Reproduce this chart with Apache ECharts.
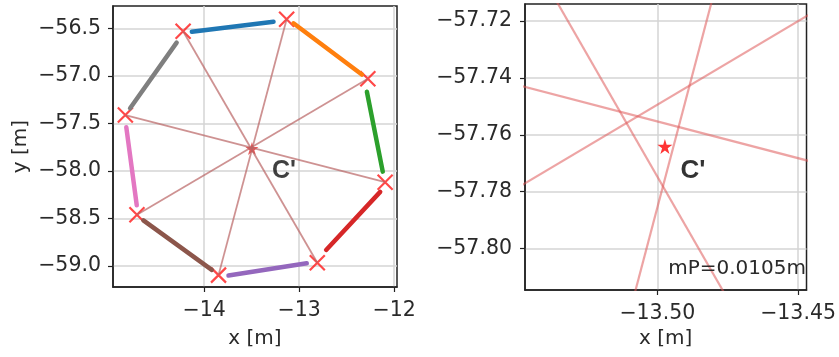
<!DOCTYPE html>
<html>
<head>
<meta charset="utf-8">
<script src="https://cdn.jsdelivr.net/npm/echarts@6/dist/echarts.min.js"></script>
<style>
  html, body { margin: 0; padding: 0; background: #fff; }
  #chart { width: 839px; height: 357px; }
</style>
</head>
<body>
<div id="chart"></div>
<script>
// anchor points (red X), metres
var markerX = [-14.222, -13.132, -12.277, -12.095, -12.809, -13.849, -14.708, -14.830];
var markerY = [-56.531, -56.405, -57.030, -58.118, -58.965, -59.095, -58.460, -57.412];
// estimated centre C'
var centerX = [-13.4973];
var centerY = [-57.7641];
// lines joining opposite anchors
var lineFrom = [0, 1, 2, 7];
var lineTo = [4, 5, 6, 3];
// measured wall segments
var segX0 = [-14.13, -13.06, -12.287, -12.147, -12.92, -13.92, -14.71, -14.78];
var segY0 = [-56.536, -56.447, -57.167, -58.22, -58.97, -59.04, -58.36, -57.34];
var segX1 = [-13.27, -12.34, -12.12, -12.716, -13.744, -14.64, -14.82, -14.29];
var segY1 = [-56.43, -56.986, -58.007, -58.83, -59.10, -58.52, -57.54, -56.65];
// axes
var leftXTicks = [-14, -13, -12];
var leftYTicks = [-56.5, -57.0, -57.5, -58.0, -58.5, -59.0];
var rightXTicks = [-13.50, -13.45];
var rightYTicks = [-57.72, -57.74, -57.76, -57.78, -57.80];
var leftXRange = [-14.96, -11.97];
var leftYRange = [-59.22, -56.265];
var rightXRange = [-13.547, -13.447];
var rightYRange = [-57.8146, -57.714];
var precisionNote = "mP=0.0105m";

var segColors = ["#1f77b4", "#ff7f0e", "#2ca02c", "#d62728", "#9467bd", "#8c564b", "#e377c2", "#7f7f7f"];
var FONT = "DejaVu Sans";
var X_PATH = "path://M0,0L10,10M10,0L0,10";
var STAR_PATH = "path://M50,0L61,35L98,35L68,57L79,91L50,70L21,91L32,57L2,35L39,35Z";

function fmt(v, d) {
  return v.toFixed(d).replace("-", "\u2212");
}

function makeAxis(gridIndex, range, ticks, digits, name, nameGap, margin) {
  return {
    type: "value",
    gridIndex: gridIndex,
    min: range[0],
    max: range[1],
    name: name,
    nameLocation: "middle",
    nameGap: nameGap,
    nameTextStyle: { fontFamily: FONT, fontSize: 20, color: "#2a2a2a" },
    axisLine: { show: true, onZero: false, lineStyle: { color: "#222", width: 1.5 } },
    axisTick: { show: true, customValues: ticks, length: 5, lineStyle: { color: "#222", width: 1.2 } },
    axisLabel: {
      customValues: ticks,
      margin: margin,
      fontFamily: FONT,
      fontSize: 20.5,
      color: "#2a2a2a",
      formatter: function (v) { return fmt(v, digits); }
    },
    splitLine: { show: true, lineStyle: { color: "#d4d4d4", width: 1.5 } }
  };
}

var series = [];

// colored wall segments (left panel)
for (var i = 0; i < segX0.length; i++) {
  series.push({
    type: "line",
    xAxisIndex: 0,
    yAxisIndex: 0,
    data: [[segX0[i], segY0[i]], [segX1[i], segY1[i]]],
    symbol: "none",
    lineStyle: { color: segColors[i], width: 4.5, cap: "round" },
    silent: true
  });
}

// star under the lines (left panel)
series.push({
  type: "scatter",
  xAxisIndex: 0,
  yAxisIndex: 0,
  data: [[centerX[0], centerY[0]]],
  symbol: STAR_PATH,
  symbolSize: 13,
  itemStyle: { color: "#e02020", opacity: 0.75 },
  label: {
    show: true,
    formatter: "C'",
    position: "inside",
    offset: [32, 23],
    fontFamily: "Liberation Sans",
    fontWeight: "bold",
    fontSize: 25,
    color: "#000"
  }
});

// lines between opposite anchors
var panels = [
  { axis: 0, color: "rgba(185,100,100,0.7)", width: 1.8 },
  { axis: 1, color: "rgba(222,90,90,0.55)", width: 2.2 }
];
panels.forEach(function (p) {
  for (var k = 0; k < lineFrom.length; k++) {
    var a = lineFrom[k], b = lineTo[k];
    series.push({
      type: "line",
      xAxisIndex: p.axis,
      yAxisIndex: p.axis,
      data: [[markerX[a], markerY[a]], [markerX[b], markerY[b]]],
      symbol: "none",
      clip: true,
      lineStyle: { color: p.color, width: p.width },
      silent: true
    });
  }
});

// red X anchors (left panel)
series.push({
  type: "scatter",
  xAxisIndex: 0,
  yAxisIndex: 0,
  data: markerX.map(function (x, i) { return [x, markerY[i]]; }),
  symbol: X_PATH,
  symbolSize: 15,
  itemStyle: { color: "transparent", borderColor: "#ff1a1a", borderWidth: 2.2 }
});

// star in the zoomed panel
series.push({
  type: "scatter",
  xAxisIndex: 1,
  yAxisIndex: 1,
  data: [[centerX[0], centerY[0]]],
  symbol: STAR_PATH,
  symbolSize: 15,
  itemStyle: { color: "#ff0000" },
  label: {
    show: true,
    formatter: "C'",
    position: "inside",
    offset: [28, 24],
    fontFamily: "Liberation Sans",
    fontWeight: "bold",
    fontSize: 26,
    color: "#000"
  }
});

var chart = echarts.init(document.getElementById("chart"), null, { renderer: "canvas" });
chart.setOption({
  animation: false,
  backgroundColor: "#fff",
  grid: [
    { left: 113, top: 6, width: 284, height: 281, show: true, borderColor: "#222", borderWidth: 1.5 },
    { left: 525, top: 4, width: 285, height: 286, show: true, borderColor: "#222", borderWidth: 1.5 }
  ],
  xAxis: [
    makeAxis(0, leftXRange, leftXTicks, 0, "x [m]", 42, 13),
    makeAxis(1, rightXRange, rightXTicks, 2, "x [m]", 39, 13)
  ],
  yAxis: [
    makeAxis(0, leftYRange, leftYTicks, 1, "y [m]", 82, 12),
    makeAxis(1, rightYRange, rightYTicks, 2, "", 0, 13)
  ],
  graphic: [
    {
      type: "text",
      right: 33,
      top: 259,
      z: 100,
      style: { text: precisionNote, font: "20px \"DejaVu Sans\"", fill: "#2a2a2a" }
    }
  ],
  series: series
});
</script>
</body>
</html>
